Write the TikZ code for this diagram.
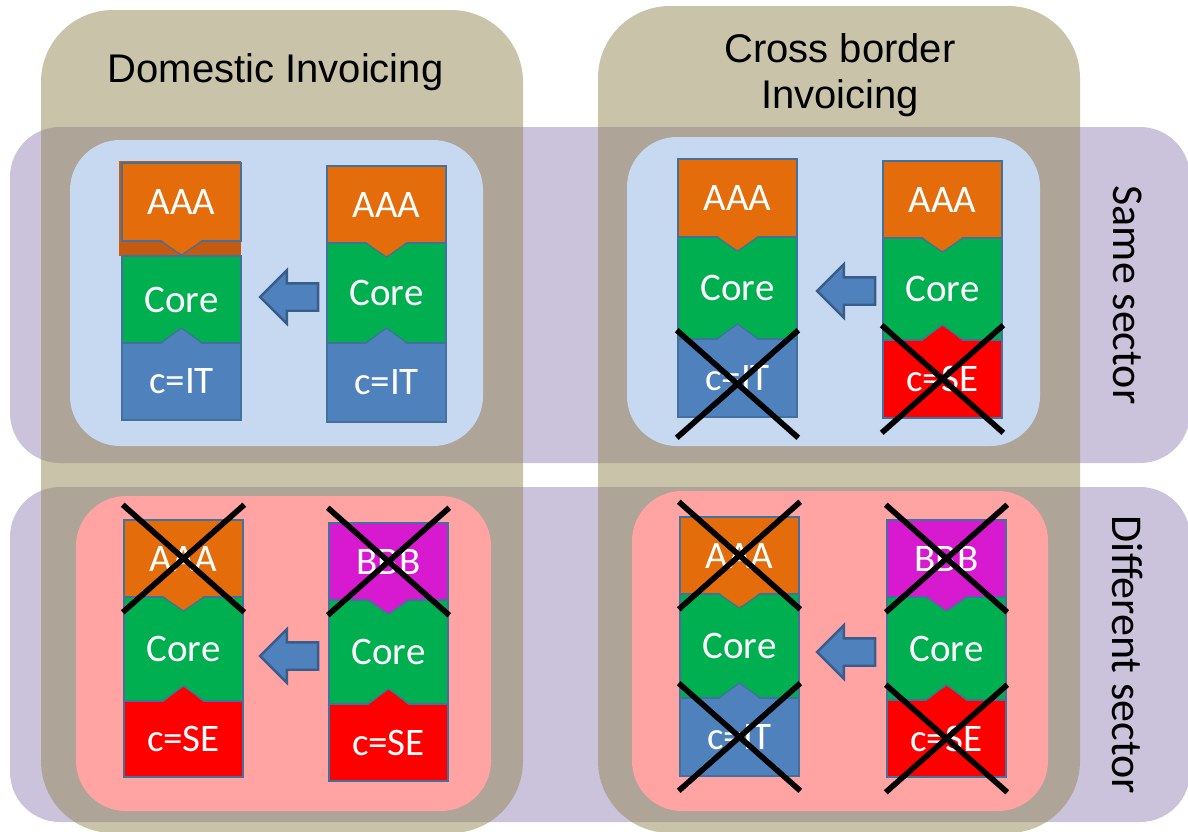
\documentclass[tikz,border=0pt]{standalone}
\usepackage{fontspec}
\usetikzlibrary{positioning,shapes.arrows,shapes.misc}
\newfontfamily\arialfont{Liberation Sans}
\newfontfamily\calibrifont{Carlito}
\definecolor{lavender}{HTML}{CBC3DB}
\definecolor{khaki}{HTML}{938755}
\definecolor{paleblue}{HTML}{C6D9F1}
\definecolor{palepink}{HTML}{FFA3A3}
\definecolor{extorange}{HTML}{E46C0A}
\definecolor{extdark}{HTML}{C55A11}
\definecolor{extmagenta}{HTML}{D71AD0}
\definecolor{coregreen}{HTML}{00B050}
\definecolor{ctryblue}{HTML}{4F81BD}
\definecolor{ctryred}{HTML}{FF0000}
\definecolor{edgeblue}{HTML}{41719C}
\definecolor{arrowedge}{HTML}{385D8A}

\begin{document}
\begin{tikzpicture}[
    x=0.5pt, y=-0.5pt,
    band/.style={fill=lavender, rounded corners=25pt},
    column/.style={fill=khaki, fill opacity=0.5, rounded corners=36pt},
    panel/.style={fill=#1, rounded corners=25pt},
    blk/.style={
        draw=edgeblue, line width=0.6pt, fill=#1,
        minimum width=59.5pt, inner sep=0pt, outer sep=0pt,
        font=\calibrifont\fontsize{19.5}{20}\selectfont, text=white,
    },
    extblk/.style={blk=#1, minimum height=38.5pt, anchor=north west},
    coreblk/.style={blk=coregreen, minimum height=51.5pt},
    ctryblk/.style={blk=#1, minimum height=38.5pt},
    tabedge/.style={draw=edgeblue, line width=0.6pt},
    tabdn/.pic={
        \fill[pic actions] (-20,-1) -- (0,14) -- (20,-1) -- cycle;
        \draw[tabedge] (-21,0) -- (0,14) -- (21,0);
    },
    tabup/.pic={
        \fill[pic actions] (-20,1) -- (0,-15) -- (20,1) -- cycle;
        \draw[tabedge] (-21,0) -- (0,-15) -- (21,0);
    },
    movearrow/.style={
        single arrow, shape border rotate=180, fill=ctryblue, draw=arrowedge,
        line width=1.2pt, minimum height=29pt, minimum width=25pt,
        single arrow head extend=6.5pt, single arrow tip angle=90, inner sep=6.25pt,
    },
    crossx/.style={cross out, draw=black, line width=2.8pt,
        minimum width=58pt, minimum height=51pt, inner sep=0pt},
    coltitle/.style={font=\arialfont\fontsize{20}{23}\selectfont, align=center},
    rowtitle/.style={font=\calibrifont\fontsize{22}{24}\selectfont, rotate=-90},
]
\useasboundingbox (0,0) rectangle (1188,831);
\clip (0,0) rectangle (1188,831);

% ── Row bands ──
\fill[band] (10,127) rectangle (1190,463);
\fill[band] (10,487) rectangle (1190,822);

% ── Column bands ──
\fill[column] (41,10) rectangle (523,833);
\fill[column] (598,6) rectangle (1080,833);

% ── Panels ──
\fill[panel=paleblue] (70,140) rectangle (483,446);
\fill[panel=paleblue] (627,137) rectangle (1040,446);
\fill[panel=palepink] (76,496) rectangle (491,811);
\fill[panel=palepink] (632,491) rectangle (1048,811);

% ── Same sector, domestic ──
\node[fill=extdark, minimum width=61pt, minimum height=47.5pt,
      inner sep=0pt, anchor=north west] (sd1dark) at (119,161) {};
\node[extblk=extorange, minimum height=39pt] (sd1ext) at (122,163) {AAA};
\node[coreblk, minimum height=43.5pt, below=7.5pt of sd1ext] (sd1core) {Core};
\node[ctryblk=ctryblue, below=0pt of sd1core] (sd1ctry) {c=IT};
\pic[fill=extorange] at (sd1ext.south) {tabdn};
\pic[fill=ctryblue] at (sd1ctry.north) {tabup};

\node[extblk=extorange] (sd2ext) at (327,166) {AAA};
\node[coreblk, minimum height=50pt, below=0pt of sd2ext] (sd2core) {Core};
\node[ctryblk=ctryblue, minimum height=39.5pt, below=0pt of sd2core] (sd2ctry) {c=IT};
\pic[fill=extorange] at (sd2ext.south) {tabdn};
\pic[fill=ctryblue] at (sd2ctry.north) {tabup};

\node[movearrow] (sdarrow) at (296,297) {};

% ── Same sector, cross border ──
\node[extblk=extorange, minimum height=39pt] (sc1ext) at (678,159) {AAA};
\node[coreblk, minimum height=51pt, below=0pt of sc1ext] (sc1core) {Core};
\node[ctryblk=ctryblue, minimum height=39pt, below=0pt of sc1core] (sc1ctry) {c=IT};
\pic[fill=extorange] at (sc1ext.south) {tabdn};
\pic[fill=ctryblue] at (sc1ctry.north) {tabup};

\node[extblk=extorange] (sc2ext) at (883,161) {AAA};
\node[coreblk, minimum height=51pt, below=0pt of sc2ext] (sc2core) {Core};
\node[ctryblk=ctryred, minimum height=39pt, below=0pt of sc2core] (sc2ctry) {c=SE};
\pic[fill=extorange] at (sc2ext.south) {tabdn};
\pic[fill=ctryred] at (sc2ctry.north) {tabup};

\node[movearrow] (scarrow) at (853,291) {};
\node[crossx] (sc1cross) at ([yshift=-3pt]sc1ctry.center) {};
\node[crossx] (sc2cross) at (sc2ctry.center) {};

% ── Different sector, domestic ──
\node[extblk=extorange] (dd1ext) at (124,520) {AAA};
\node[coreblk, minimum height=52pt, below=0pt of dd1ext] (dd1core) {Core};
\node[ctryblk=ctryred, minimum height=38pt, below=0pt of dd1core] (dd1ctry) {c=SE};
\pic[fill=extorange] at (dd1ext.south) {tabdn};
\pic[fill=ctryred] at (dd1ctry.north) {tabup};

\node[extblk=extmagenta] (dd2ext) at (329,523) {BBB};
\node[coreblk, minimum height=52pt, below=0pt of dd2ext] (dd2core) {Core};
\node[ctryblk=ctryred, below=0pt of dd2core] (dd2ctry) {c=SE};
\pic[fill=extmagenta] at (dd2ext.south) {tabdn};
\pic[fill=ctryred] at (dd2ctry.north) {tabup};

\node[movearrow] (ddarrow) at (296,656) {};
\node[crossx] (dd1cross) at (dd1ext.center) {};
\node[crossx] (dd2cross) at (dd2ext.center) {};

% ── Different sector, cross border ──
\node[extblk=extorange] (dc1ext) at (680,517) {AAA};
\node[coreblk, minimum height=52pt, below=0pt of dc1ext] (dc1core) {Core};
\node[ctryblk=ctryblue, minimum height=39pt, below=0pt of dc1core] (dc1ctry) {c=IT};
\pic[fill=extorange] at (dc1ext.south) {tabdn};
\pic[fill=ctryblue] at (dc1ctry.north) {tabup};

\node[extblk=extmagenta] (dc2ext) at (887,520) {BBB};
\node[coreblk, below=0pt of dc2ext] (dc2core) {Core};
\node[ctryblk=ctryred, below=0pt of dc2core] (dc2ctry) {c=SE};
\pic[fill=extmagenta] at (dc2ext.south) {tabdn};
\pic[fill=ctryred] at (dc2ctry.north) {tabup};

\node[movearrow] (dcarrow) at (853,652) {};
\node[crossx] (dc1cross) at (dc1ext.center) {};
\node[crossx] (dc1xcross) at (dc1ctry.center) {};
\node[crossx] (dc2cross) at (dc2ext.center) {};
\node[crossx] (dc2xcross) at (dc2ctry.center) {};

% ── Titles ──
\node[coltitle, anchor=base] (domtitle) at (275.5,82) {Domestic Invoicing};
\node[coltitle] (crosstitle) at (840,75) {Cross border\\Invoicing};
\node[rowtitle] (sametitle) at (1128,295) {Same sector};
\node[rowtitle] (difftitle) at (1128,655) {Different sector};

\end{tikzpicture}
\end{document}
